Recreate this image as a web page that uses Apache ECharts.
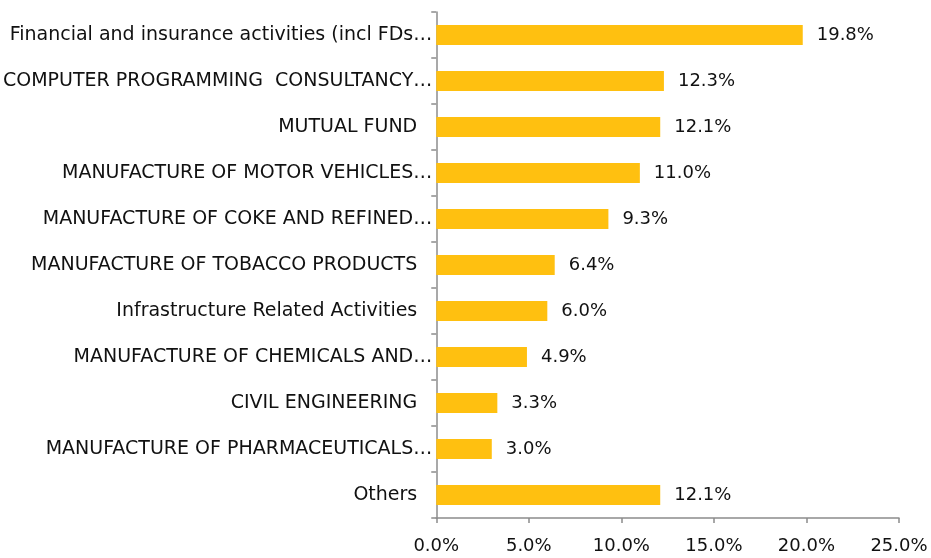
<!DOCTYPE html>
<html>
<head>
<meta charset="utf-8">
<script src="https://cdn.jsdelivr.net/npm/echarts@6/dist/echarts.min.js"></script>
<style>
  html, body { margin: 0; padding: 0; background: #fff; }
  #chart { width: 931px; height: 558px; }
</style>
</head>
<body>
<div id="chart"></div>
<script>
// Sectoren van boven naar beneden zoals in de grafiek
const categories = [
  'Financial and insurance activities (incl FDs…',
  'COMPUTER PROGRAMMING  CONSULTANCY…',
  'MUTUAL FUND',
  'MANUFACTURE OF MOTOR VEHICLES…',
  'MANUFACTURE OF COKE AND REFINED…',
  'MANUFACTURE OF TOBACCO PRODUCTS',
  'Infrastructure Related Activities',
  'MANUFACTURE OF CHEMICALS AND…',
  'CIVIL ENGINEERING',
  'MANUFACTURE OF PHARMACEUTICALS…',
  'Others'
];
const shares = [19.8, 12.3, 12.1, 11.0, 9.3, 6.4, 6.0, 4.9, 3.3, 3.0, 12.1];

const chart = echarts.init(document.getElementById('chart'));
const font = 'DejaVu Sans';

chart.setOption({
  animation: false,
  grid: { left: 436, right: 32, top: 12, bottom: 40, containLabel: false },
  xAxis: {
    type: 'value',
    min: 0, max: 25, interval: 5,
    splitLine: { show: false },
    axisLine: { show: true, lineStyle: { color: '#8c8c8c', width: 1.5 } },
    axisTick: { show: true, length: 5, lineStyle: { color: '#8c8c8c', width: 1.5 } },
    axisLabel: {
      color: '#111', fontFamily: font, fontSize: 18, margin: 19,
      formatter: v => v.toFixed(1) + '%'
    }
  },
  yAxis: {
    type: 'category',
    inverse: true,
    data: categories,
    axisLine: { show: true, lineStyle: { color: '#8c8c8c', width: 1.5 } },
    axisTick: { show: true, length: 5, lineStyle: { color: '#8c8c8c', width: 1.5 } },
    axisLabel: {
      color: '#111', fontFamily: font, fontSize: 19, margin: 4,
      formatter: v => v.endsWith('…') ? v : '{p|' + v + '}',
      rich: { p: { color: '#111', fontFamily: font, fontSize: 19, padding: [0, 15, 0, 0] } }
    }
  },
  series: [{
    type: 'bar',
    data: shares,
    barWidth: '43%',
    itemStyle: { color: '#FFC010' },
    label: {
      show: true, position: 'right', distance: 14,
      color: '#111', fontFamily: font, fontSize: 18,
      formatter: p => p.value.toFixed(1) + '%'
    }
  }]
});
</script>
</body>
</html>
